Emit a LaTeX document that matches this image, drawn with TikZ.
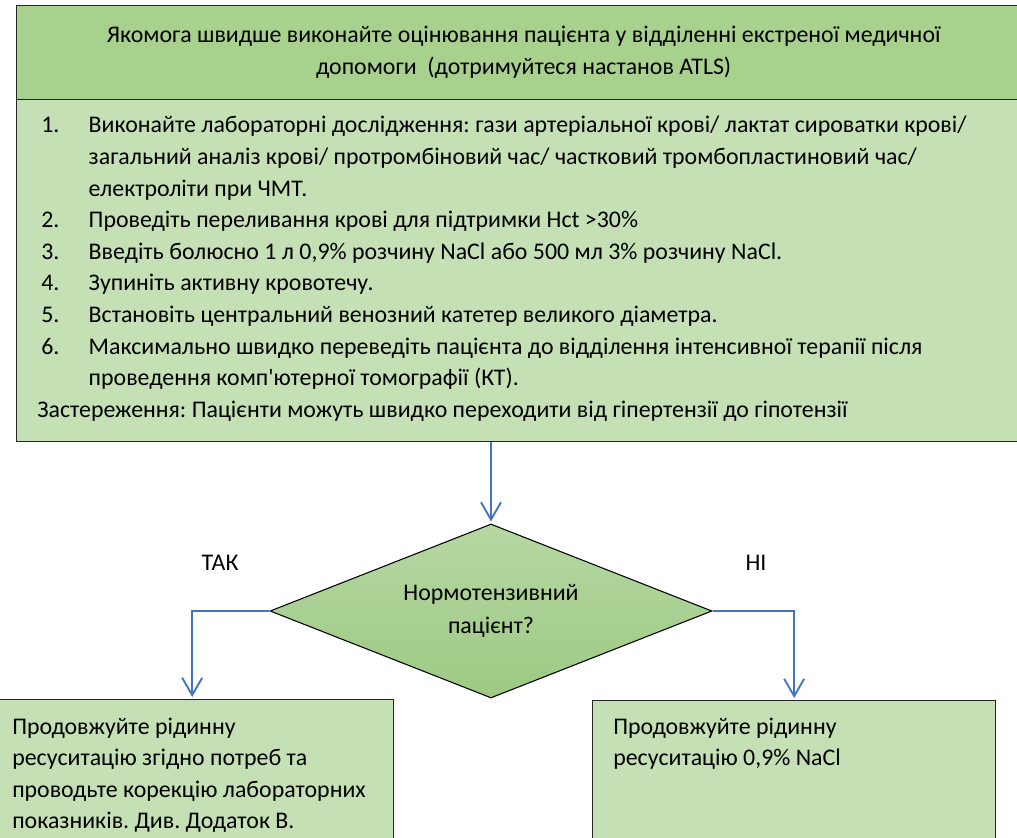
\documentclass[tikz,border=0pt]{standalone}
\usepackage{fontspec}
\setmainfont{Carlito}
\usetikzlibrary{shapes.geometric}
\usetikzlibrary{arrows.meta, positioning}
\definecolor{hdrgreen}{HTML}{A9D18E}
\definecolor{boxgreen}{HTML}{C5E0B4}
\definecolor{diatop}{HTML}{B6D8A3}
\definecolor{diabot}{HTML}{9DC983}
\definecolor{linkblue}{HTML}{4472C4}
\definecolor{edgegray}{HTML}{262626}
\newcommand{\bodyfont}{\fontsize{17.9}{23.7}\selectfont}
\frenchspacing

\begin{document}
\begin{tikzpicture}[x=0.75pt, y=-0.75pt,
    box/.style={draw=edgegray, line width=1pt, anchor=north west, inner sep=0pt},
    bodytext/.style={font=\bodyfont, inner sep=0pt, anchor=base west},
    branchlabel/.style={font=\bodyfont, inner sep=0pt},
    decision/.style={diamond, draw=black, line width=0.8pt, top color=diatop, bottom color=diabot,
        aspect=2.54, minimum width=331.5pt, minimum height=130.5pt, inner sep=0pt, align=center,
        font=\fontsize{17.9}{24.75}\selectfont},
    link/.style={draw=linkblue, line width=1.4pt, -{Straight Barb[length=13pt, width=15pt]}, shorten >=1.5pt}]
    \useasboundingbox (0,0) rectangle (1017,838);
    \clip (0,0) rectangle (1017,838);
    % boxes
    \node[box, fill=hdrgreen, minimum width=760.5pt, minimum height=70.5pt, align=center, font=\fontsize{17.9}{24}\selectfont] (header) at (16,5)
        {Якомога швидше виконайте оцінювання пацієнта у відділенні екстреної медичної\\допомоги\ \ (дотримуйтеся настанов ATLS)};
    \node[box, fill=boxgreen, minimum width=760.5pt, minimum height=256.5pt] (steps) at (16,99) {};
    \node[box, fill=boxgreen, minimum width=302.25pt, minimum height=120pt] (yesbox) at (-10,699) {};
    \node[box, fill=boxgreen, minimum width=302.25pt, minimum height=120pt] (nobox) at (592,700) {};
    \node[decision] (normo) at (491,611) {Нормотензивний\\пацієнт?};
    % texts
    \node[bodytext] (stepslist) at (41,133) {\begin{tabular}[t]{@{}p{35.6pt}@{}l@{}}
        1. & Виконайте лабораторні дослідження: гази артеріальної крові/ лактат сироватки крові/\\
           & загальний аналіз крові/ протромбіновий час/ частковий тромбопластиновий час/\\
           & електроліти при ЧМТ.\\
        2. & Проведіть переливання крові для підтримки Hct >30\%\\
        3. & Введіть болюсно 1 л 0,9\% розчину NaCl або 500 мл 3\% розчину NaCl.\\
        4. & Зупиніть активну кровотечу.\\
        5. & Встановіть центральний венозний катетер великого діаметра.\\
        6. & Максимально швидко переведіть пацієнта до відділення інтенсивної терапії після\\
           & проведення комп\textquotesingle ютерної томографії (КТ).\\
        \multicolumn{2}{@{\hspace{-3pt}}l@{}}{Застереження: Пацієнти можуть швидко переходити від гіпертензії до гіпотензії}
    \end{tabular}};
    \node[bodytext] (yestext) at (12,734) {\begin{tabular}[t]{@{}l@{}}
        Продовжуйте рідинну\\ресуситацію згідно потреб та\\проводьте корекцію лабораторних\\показників. Див. Додаток В.
    \end{tabular}};
    \node[bodytext] (notext) at (613,734) {\begin{tabular}[t]{@{}l@{}}
        Продовжуйте рідинну\\ресуситацію 0,9\% NaCl
    \end{tabular}};
    \node[branchlabel] (yeslabel) at (220,563) {ТАК};
    \node[branchlabel] (nolabel) at (756,563) {НІ};
    % connectors
    \draw[link] (normo.north |- steps.south) -- (normo.north);
    \draw[link] (normo.west) -| (yesbox.north);
    \draw[link] (normo.east) -| (nobox.north);
\end{tikzpicture}
\end{document}
